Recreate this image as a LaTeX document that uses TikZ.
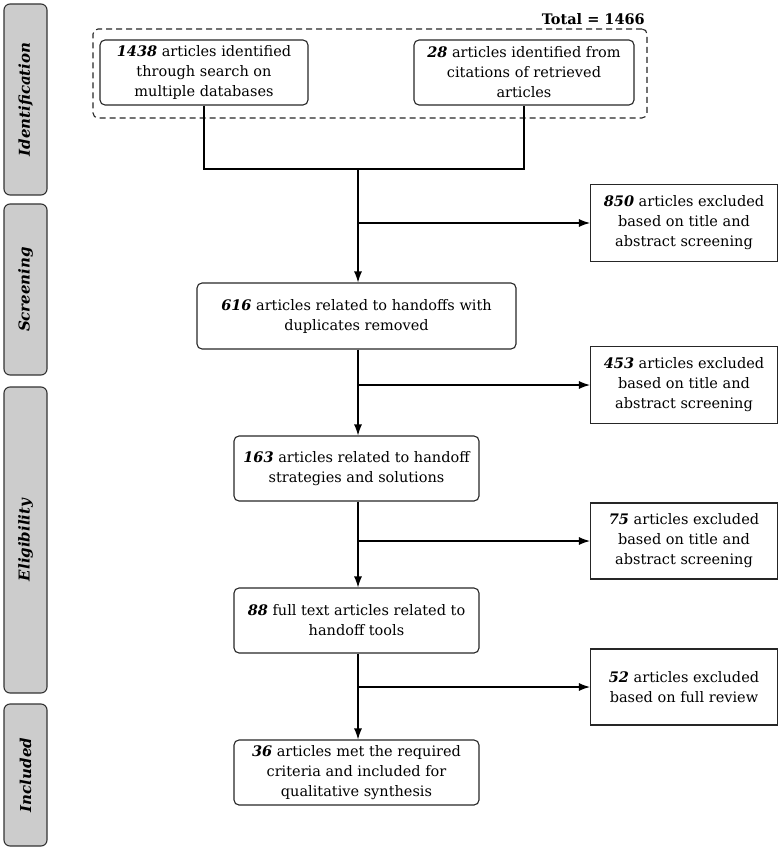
\documentclass[tikz,border=0pt]{standalone}
\usepackage{fontspec}
\setmainfont{DejaVu Serif}
\usetikzlibrary{arrows.meta}
\begin{document}
\begin{tikzpicture}[x=1pt,y=-1pt,
  lw/.style={line width=1.1pt},
  phase/.style={lw,draw=black!80,fill=black!20,rounded corners=6pt,minimum width=43pt,inner sep=0pt,font=\fontsize{15}{18}\selectfont\bfseries\itshape},
  rbox/.style={lw,draw=black!85,rounded corners=5pt,inner sep=0pt,align=center,font=\fontsize{14.5}{20}\selectfont},
  xbox/.style={lw,draw=black!85,inner sep=0pt,align=center,minimum width=187pt,font=\fontsize{14.5}{20}\selectfont},
  arr/.style={lw,-{Latex[length=11pt,width=8pt]}},
  ln/.style={lw}]
\useasboundingbox (0,0) rectangle (780,850);
% phases
\node[phase,minimum height=191pt] (pid) at (25.5,99.5) {\rotatebox{90}{Identification}};
\node[phase,minimum height=171pt] (psc) at (25.5,289.5) {\rotatebox{90}{Screening}};
\node[phase,minimum height=306pt] (pel) at (25.5,540) {\rotatebox{90}{Eligibility}};
\node[phase,minimum height=142pt] (pin) at (25.5,775) {\rotatebox{90}{Included}};
% identification
\node[lw,draw=black!85,dash pattern=on 6pt off 4pt,rounded corners=5pt,minimum width=554pt,minimum height=89pt] (dash) at (370,73.5) {};
\node[anchor=base east,font=\fontsize{14.5}{16}\selectfont\bfseries,inner sep=0pt] (tot) at (645,25) {Total = 1466};
\node[rbox,minimum width=208pt,minimum height=65pt] (b1) at (204,72.5) {\textbf{\textit{1438}} articles identified\\through search on\\multiple databases};
\node[rbox,minimum width=220pt,minimum height=65pt] (b2) at (524,72.5) {\textbf{\textit{28}} articles identified from\\citations of retrieved\\articles};
% main boxes
\node[rbox,minimum width=319pt,minimum height=66pt] (b616) at (356.5,316) {\textbf{\textit{616}} articles related to handoffs with\\duplicates removed};
\node[rbox,minimum width=245pt,minimum height=65pt] (b163) at (356.5,468.5) {\textbf{\textit{163}} articles related to handoff\\strategies and solutions};
\node[rbox,minimum width=245pt,minimum height=65pt] (b88) at (356.5,620.5) {\textbf{\textit{88}} full text articles related to\\handoff tools};
\node[rbox,minimum width=245pt,minimum height=65pt] (b36) at (356.5,772.5) {\textbf{\textit{36}} articles met the required\\criteria and included for\\qualitative synthesis};
% excluded boxes
\node[xbox,minimum height=77pt] (x1) at (684,223) {\textbf{\textit{850}} articles excluded\\based on title and\\abstract screening};
\node[xbox,minimum height=77pt] (x2) at (684,385) {\textbf{\textit{453}} articles excluded\\based on title and\\abstract screening};
\node[xbox,minimum height=76pt] (x3) at (684,541) {\textbf{\textit{75}} articles excluded\\based on title and\\abstract screening};
\node[xbox,minimum height=76pt] (x4) at (684,687) {\textbf{\textit{52}} articles excluded\\based on full review};
% connectors
\coordinate (m) at (358,169);
\coordinate (j1) at (358,223);
\coordinate (j2) at (358,385);
\coordinate (j3) at (358,541);
\coordinate (j4) at (358,687);
\draw[ln] (b1.south) |- (m) -| (b2.south);
\draw[arr] (m) -- (m |- b616.north);
\draw[arr] (j1) -- (x1.west);
\draw[arr] (m |- b616.south) -- (m |- b163.north);
\draw[arr] (j2) -- (x2.west);
\draw[arr] (m |- b163.south) -- (m |- b88.north);
\draw[arr] (j3) -- (x3.west);
\draw[arr] (m |- b88.south) -- (m |- b36.north);
\draw[arr] (j4) -- (x4.west);
\end{tikzpicture}
\end{document}
